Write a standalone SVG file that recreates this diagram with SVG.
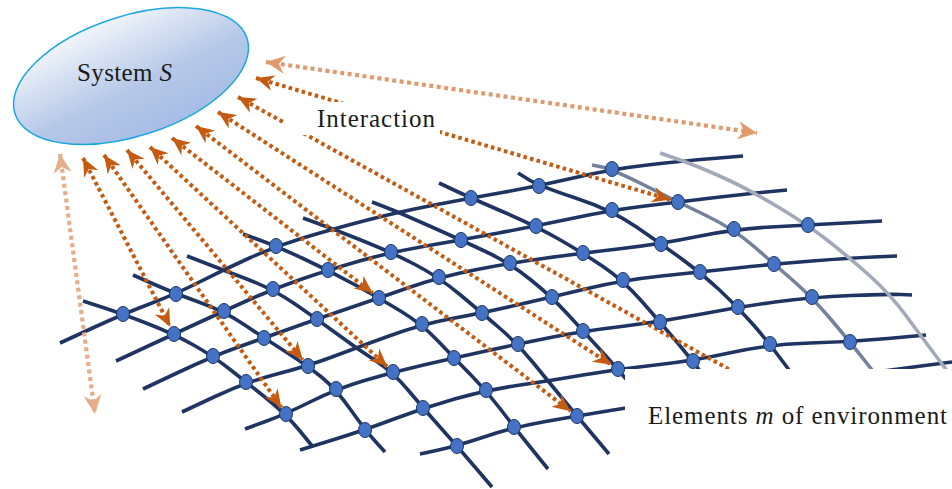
<svg xmlns="http://www.w3.org/2000/svg" width="952" height="489" viewBox="0 0 952 489">
<style>
.h{fill:none;stroke:#1f3461;stroke-width:3.6;stroke-linecap:butt}
.g1{fill:none;stroke:#74829c;stroke-width:3.6}
.g2{fill:none;stroke:#a2aaba;stroke-width:3.6}
.m{fill:#4472c4;stroke:#1f3864;stroke-width:1}
.ad{fill:none;stroke:#c55a11;stroke-width:4;stroke-dasharray:3.6 3.2;marker-start:url(#hd);marker-end:url(#hd)}
.lbl{font-family:"Liberation Serif","Times New Roman",serif;font-size:25px;fill:#1a1a1a}
</style>
<defs>
<linearGradient id="eg" x1="0.3" y1="0" x2="0.6" y2="1">
<stop offset="0" stop-color="#f5f7fc"/>
<stop offset="0.6" stop-color="#b6c8e8"/>
<stop offset="1" stop-color="#a7bde4"/>
</linearGradient>
<marker id="hd" viewBox="-20 -9 21 18" refX="0" refY="0" markerWidth="21" markerHeight="18" markerUnits="userSpaceOnUse" orient="auto-start-reverse" overflow="visible"><path d="M0,0 L-18,-8 L-12.5,0 L-18,8 Z" fill="#c55a11"/></marker>
<marker id="hl" viewBox="-21 -10 22 20" refX="0" refY="0" markerWidth="22" markerHeight="20" markerUnits="userSpaceOnUse" orient="auto-start-reverse" overflow="visible"><path d="M0,0 L-19,-9 L-13,0 L-19,9 Z" fill="#e09a6c"/></marker>
<marker id="hl2" viewBox="-21 -10 22 20" refX="0" refY="0" markerWidth="22" markerHeight="20" markerUnits="userSpaceOnUse" orient="auto-start-reverse" overflow="visible"><path d="M0,0 L-19,-9 L-13,0 L-19,9 Z" fill="#e6ad88"/></marker>
</defs>
<rect width="952" height="489" fill="#fff"/>

<g id="system">
<ellipse cx="131" cy="76" rx="122" ry="60" transform="rotate(-18 131 76)" fill="url(#eg)" stroke="#1aa7e0" stroke-width="1.5"/>
<text class="lbl" x="77" y="81" textLength="95">System <tspan font-style="italic">S</tspan></text>
</g>

<g id="environment-lines">
<path class="h" d="M60,343 L91.5,328.5 Q123,314 149.5,304 Q176,294 199.5,282 Q223,270 249.5,258 Q276,246 304.5,237.5 Q333,229 365.5,220.5 Q398,212 434.5,205 Q471,198 505,192 Q539,186 575.5,177.5 Q612,169 647.5,165 Q683,161 713,158.5 L743,156"/>
<path class="h" d="M116,361 L145,347.5 Q174,334 199,322.5 Q224,311 248.5,300 Q273,289 300.5,279.5 Q328,270 359.5,261 Q391,252 426,246 Q461,240 498.5,233 Q536,226 574,218 Q612,210 645,206 Q678,202 711.5,198 Q745,194 766,192 L787,190"/>
<path class="h" d="M143,389 L178,372.5 Q213,356 238.5,347 Q264,338 290.5,328.5 Q317,319 348,308.5 Q379,298 409,287.5 Q439,277 474.5,270 Q510,263 546.5,258 Q583,253 622,248.5 Q661,244 697.5,236.5 Q734,229 771,227 Q808,225 845,223 L882,221"/>
<path class="h" d="M182,412 L214,397 Q246,382 277,374 Q308,366 332,357 Q356,348 389,336 Q422,324 452,318.5 Q482,313 517,305 Q552,297 587.5,288.5 Q623,280 661.5,276 Q700,272 737,268 Q774,264 812,261 Q850,258 873.5,257 L897,256"/>
<path class="h" d="M245,429 L265.5,421.5 Q286,414 311,401.5 Q336,389 364.5,380.5 Q393,372 423.5,365 Q454,358 486,351 Q518,344 550.5,337.5 Q583,331 621.5,326.5 Q660,322 699,314.5 Q738,307 775,302 Q812,297 851,295.5 Q890,294 901,294.5 L912,295"/>
<path class="h" d="M300,450 L332.5,440 Q365,430 394,419 Q423,408 454.5,399 Q486,390 517,385.5 Q548,381 583,375 Q618,369 655.5,365 Q693,361 731.5,352.5 Q770,344 810,343 Q850,342 888,338.5 L926,335"/>
<path class="h" d="M420,454 L438.5,450 Q457,446 485.5,436.5 Q514,427 545.5,421.5 Q577,416 613.5,410 Q650,404 705,396 Q760,388 810,381 Q860,374 906,368 L952,362"/>
<path class="h" d="M83,301 L103,307.5 Q123,314 148.5,324 Q174,334 193.5,345 Q213,356 229.5,369 Q246,382 266,398 Q286,414 299.5,430.5 L313,447"/>
<path class="h" d="M133,275 L154.5,284.5 Q176,294 200,302.5 Q224,311 244,324.5 Q264,338 286,352 Q308,366 322,377.5 Q336,389 350.5,409.5 Q365,430 375,441 L385,452"/>
<path class="h" d="M187,256 L205,263 Q223,270 248,279.5 Q273,289 295,304 Q317,319 336.5,333.5 Q356,348 374.5,360 Q393,372 408,390 Q423,408 440,427 Q457,446 474.5,466.5 L492,487"/>
<path class="h" d="M243,234 L259.5,240 Q276,246 302,258 Q328,270 353.5,284 Q379,298 400.5,311 Q422,324 438,341 Q454,358 470,374 Q486,390 500,408.5 Q514,427 531,448 L548,469"/>
<path class="h" d="M303,218 L318,223.5 Q333,229 362,240.5 Q391,252 415,264.5 Q439,277 460.5,295 Q482,313 500,328.5 Q518,344 533,362.5 Q548,381 562.5,398.5 Q577,416 593,435 L609,454"/>
<path class="h" d="M372,202 L385,207 Q398,212 429.5,226 Q461,240 485.5,251.5 Q510,263 531,280 Q552,297 567.5,314 Q583,331 600.5,350 Q618,369 634,388.5 Q650,408 665,429 L680,450"/>
<path class="h" d="M439,183 L455,190.5 Q471,198 503.5,212 Q536,226 559.5,239.5 Q583,253 603,266.5 Q623,280 641.5,301 Q660,322 676.5,341.5 Q693,361 709,383 L725,405"/>
<path class="h" d="M518,173 L528.5,179.5 Q539,186 575.5,198 Q612,210 636.5,227 Q661,244 680.5,258 Q700,272 719,289.5 Q738,307 754,325.5 Q770,344 785,364.5 L800,385"/>
<path class="g1" d="M592,165 L602,167 Q612,169 645,185.5 Q678,202 706,215.5 Q734,229 754,246.5 Q774,264 793,280.5 Q812,297 831,319.5 Q850,342 865,361 L880,380"/>
<path class="g2" d="M660,153 L680,160 Q700,167 725,178.5 Q750,190 779,207.5 Q808,225 829,241.5 Q850,258 870,276 Q890,294 905.5,315 Q921,336 934.5,354 L948,372"/>
</g>

<g id="connectors">
<path d="M266,62 L757,133" fill="none" stroke="#e09a6c" stroke-width="4.2" stroke-dasharray="4 3.5" marker-start="url(#hl)" marker-end="url(#hl)"/>
<path d="M60,154 L95,414" fill="none" stroke="#e6ad88" stroke-width="4.2" stroke-dasharray="4 3.5" marker-start="url(#hl2)" marker-end="url(#hl2)"/>
<path class="ad" d="M256,78 L670.3,199.7"/>
<path class="ad" d="M238,97 L770,392" style="marker-end:none"/>
<path class="ad" d="M218,112 L611.3,364.7"/>
<path class="ad" d="M196,126 L570.6,411.2"/>
<path class="ad" d="M172,138 L372.7,293.1"/>
<path class="ad" d="M150,147 L387.1,366.6"/>
<path class="ad" d="M127,150 L302.9,359.9"/>
<path class="ad" d="M104,155 L281.4,407.5"/>
<path class="ad" d="M83,158 L170.3,326.9"/>
</g>

<rect x="285" y="102" width="155" height="33" fill="#fff"/>
<rect x="625" y="369" width="327" height="120" fill="#fff"/>

<g id="environment-elements">
<ellipse class="m" cx="123" cy="314" rx="6.5" ry="7.5"/>
<ellipse class="m" cx="176" cy="294" rx="6.5" ry="7.5"/>
<ellipse class="m" cx="276" cy="246" rx="6.5" ry="7.5"/>
<ellipse class="m" cx="471" cy="198" rx="6.5" ry="7.5"/>
<ellipse class="m" cx="539" cy="186" rx="6.5" ry="7.5"/>
<ellipse class="m" cx="612" cy="169" rx="6.5" ry="7.5"/>
<ellipse class="m" cx="174" cy="334" rx="6.5" ry="7.5"/>
<ellipse class="m" cx="224" cy="311" rx="6.5" ry="7.5"/>
<ellipse class="m" cx="273" cy="289" rx="6.5" ry="7.5"/>
<ellipse class="m" cx="328" cy="270" rx="6.5" ry="7.5"/>
<ellipse class="m" cx="391" cy="252" rx="6.5" ry="7.5"/>
<ellipse class="m" cx="461" cy="240" rx="6.5" ry="7.5"/>
<ellipse class="m" cx="536" cy="226" rx="6.5" ry="7.5"/>
<ellipse class="m" cx="612" cy="210" rx="6.5" ry="7.5"/>
<ellipse class="m" cx="678" cy="202" rx="6.5" ry="7.5"/>
<ellipse class="m" cx="213" cy="356" rx="6.5" ry="7.5"/>
<ellipse class="m" cx="264" cy="338" rx="6.5" ry="7.5"/>
<ellipse class="m" cx="317" cy="319" rx="6.5" ry="7.5"/>
<ellipse class="m" cx="379" cy="298" rx="6.5" ry="7.5"/>
<ellipse class="m" cx="439" cy="277" rx="6.5" ry="7.5"/>
<ellipse class="m" cx="510" cy="263" rx="6.5" ry="7.5"/>
<ellipse class="m" cx="583" cy="253" rx="6.5" ry="7.5"/>
<ellipse class="m" cx="661" cy="244" rx="6.5" ry="7.5"/>
<ellipse class="m" cx="734" cy="229" rx="6.5" ry="7.5"/>
<ellipse class="m" cx="808" cy="225" rx="6.5" ry="7.5"/>
<ellipse class="m" cx="246" cy="382" rx="6.5" ry="7.5"/>
<ellipse class="m" cx="308" cy="366" rx="6.5" ry="7.5"/>
<ellipse class="m" cx="422" cy="324" rx="6.5" ry="7.5"/>
<ellipse class="m" cx="482" cy="313" rx="6.5" ry="7.5"/>
<ellipse class="m" cx="552" cy="297" rx="6.5" ry="7.5"/>
<ellipse class="m" cx="623" cy="280" rx="6.5" ry="7.5"/>
<ellipse class="m" cx="700" cy="272" rx="6.5" ry="7.5"/>
<ellipse class="m" cx="774" cy="264" rx="6.5" ry="7.5"/>
<ellipse class="m" cx="286" cy="414" rx="6.5" ry="7.5"/>
<ellipse class="m" cx="336" cy="389" rx="6.5" ry="7.5"/>
<ellipse class="m" cx="393" cy="372" rx="6.5" ry="7.5"/>
<ellipse class="m" cx="454" cy="358" rx="6.5" ry="7.5"/>
<ellipse class="m" cx="518" cy="344" rx="6.5" ry="7.5"/>
<ellipse class="m" cx="583" cy="331" rx="6.5" ry="7.5"/>
<ellipse class="m" cx="660" cy="322" rx="6.5" ry="7.5"/>
<ellipse class="m" cx="738" cy="307" rx="6.5" ry="7.5"/>
<ellipse class="m" cx="812" cy="297" rx="6.5" ry="7.5"/>
<ellipse class="m" cx="365" cy="430" rx="6.5" ry="7.5"/>
<ellipse class="m" cx="423" cy="408" rx="6.5" ry="7.5"/>
<ellipse class="m" cx="486" cy="390" rx="6.5" ry="7.5"/>
<ellipse class="m" cx="618" cy="369" rx="6.5" ry="7.5"/>
<ellipse class="m" cx="693" cy="361" rx="6.5" ry="7.5"/>
<ellipse class="m" cx="770" cy="344" rx="6.5" ry="7.5"/>
<ellipse class="m" cx="850" cy="342" rx="6.5" ry="7.5"/>
<ellipse class="m" cx="457" cy="446" rx="6.5" ry="7.5"/>
<ellipse class="m" cx="514" cy="427" rx="6.5" ry="7.5"/>
<ellipse class="m" cx="577" cy="416" rx="6.5" ry="7.5"/>
</g>

<g id="interaction-label">
<text class="lbl" x="317" y="127" textLength="118">Interaction</text>
</g>
<g id="environment-label">
<text class="lbl" x="648" y="424" textLength="299">Elements <tspan font-style="italic">m</tspan> of environment</text>
</g>
</svg>
